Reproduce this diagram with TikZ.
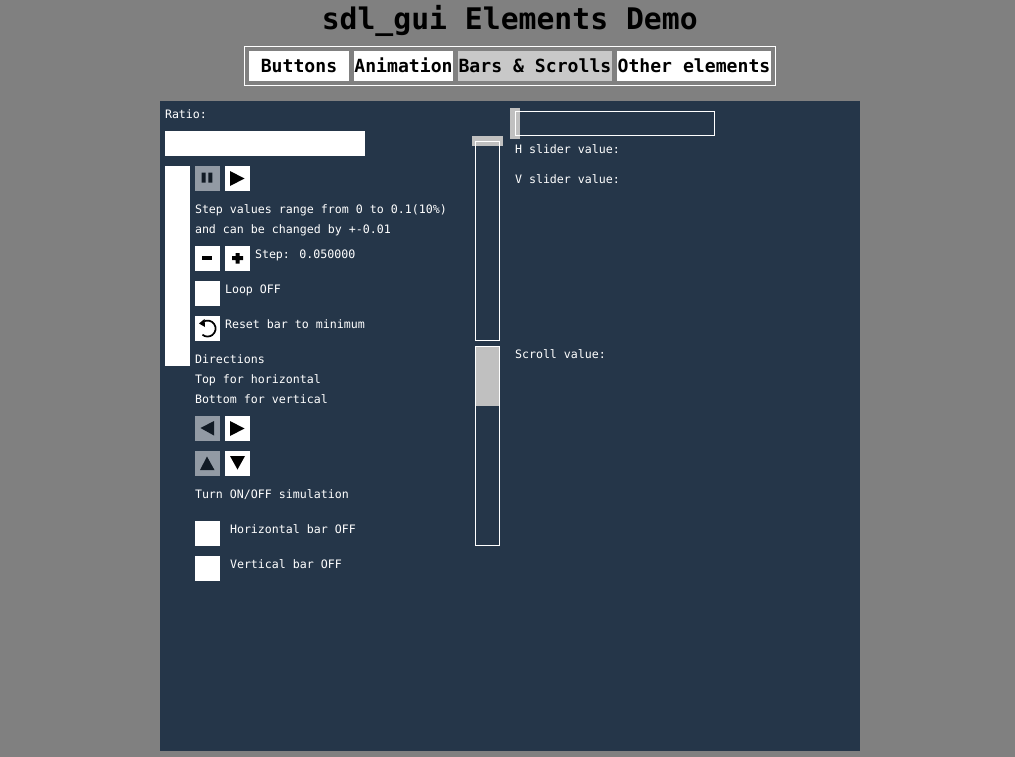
\documentclass[tikz,border=0pt]{standalone}
\usepackage{fontspec}
\setmainfont{DejaVu Sans Mono}
\usetikzlibrary{positioning}

\definecolor{windowgrey}{HTML}{808080}
\definecolor{panelblue}{HTML}{253649}
\definecolor{offgrey}{HTML}{929AA4}
\definecolor{thumbgrey}{HTML}{C0C0C0}
\definecolor{activegrey}{HTML}{C8C8C8}
\definecolor{icondark}{HTML}{121B25}

\begin{document}
\begin{tikzpicture}[x=0.75pt,y=-0.75pt,node distance=3.75pt,
  boxsize/.style 2 args={minimum width=#1*0.75pt,minimum height=#2*0.75pt},
  block/.style={inner sep=0pt,outer sep=0pt,anchor=north west,line width=0.75pt},
  whitebox/.style={block,fill=white,boxsize={25}{25}},
  offbox/.style={block,fill=offgrey,boxsize={25}{25}},
  thumb/.style={block,fill=thumbgrey},
  track/.style={block,draw=white},
  tab/.style={block,fill=white,boxsize={#1}{30},text height=9pt,text depth=0pt,
    font=\fontsize{13.6}{16}\selectfont\bfseries},
  label/.style={inner sep=0pt,outer sep=0pt,anchor=base west,text=white,
    font=\fontsize{8.72}{10}\selectfont}]

  \useasboundingbox (0,0) rectangle (1015,757);
  \fill[windowgrey] (0,0) rectangle (1015,757);
  \fill[panelblue] (160,101) rectangle (860,751);

  \node[inner sep=0pt,anchor=base west,font=\fontsize{22.3}{26}\selectfont\bfseries]
    (title) at (321.5,29) {sdl\_gui Elements Demo};

  \node[track,boxsize={531}{39}] (tabframe) at (244.5,46.5) {};
  \node[tab=100] (buttons) at (249,51) {Buttons};
  \node[tab=99,right=of buttons] (animation) {Animation};
  \node[tab=154,right=of animation,fill=activegrey] (bars) {Bars \& Scrolls};
  \node[tab=154,right=of bars] (others) {Other elements};

  \node[label] (ratio) at (165,118) {Ratio:};
  \node[block,fill=white,boxsize={200}{25}] (hbar) at (165,131) {};
  \node[block,fill=white,boxsize={25}{200}] (vbar) at (165,166) {};

  \node[offbox] (pause) at (195,166) {};
  \node[whitebox,right=of pause] (play) {};
  \fill[icondark] (201.7,172.7) rectangle (205.7,182.7) (208.3,172.7) rectangle (212.3,182.7);
  \fill (230,171) -- (230,186) -- (244.5,178.5) -- cycle;

  \node[label] (range) at (195,213) {Step values range from 0 to 0.1(10\%)};
  \node[label] (change) at (195,233) {and can be changed by +-0.01};

  \node[whitebox] (minus) at (195,246) {};
  \node[whitebox,right=of minus] (plus) {};
  \fill (202,256) rectangle (212,260);
  \fill (232,256) rectangle (243,260) (235.5,253) rectangle (239.5,263.5);
  \node[label] (step) at (255,258) {Step: 0.050000};

  \node[whitebox] (loop) at (195,281) {};
  \node[label] (looptext) at (225,293) {Loop OFF};

  \node[whitebox] (reset) at (195,316) {};
  \draw[line width=1.3pt] (203,322) arc[start angle=125,end angle=-130,radius=6pt];
  \fill (199,323.5) -- (204.5,319) -- (205,327) -- cycle;
  \node[label] (resettext) at (225,328) {Reset bar to minimum};

  \node[label] (directions) at (195,363) {Directions};
  \node[label] (tophelp) at (195,383) {Top for horizontal};
  \node[label] (bottomhelp) at (195,403) {Bottom for vertical};

  \node[offbox] (left) at (195,416) {};
  \node[whitebox,right=of left] (right) {};
  \fill[icondark] (214,421) -- (214,435.5) -- (200.5,428) -- cycle;
  \fill (230,421) -- (230,436) -- (244.5,428.5) -- cycle;

  \node[offbox] (up) at (195,451) {};
  \node[whitebox,right=of up] (down) {};
  \fill[icondark] (200,470) -- (214.5,470) -- (207,456.5) -- cycle;
  \fill (230,456) -- (245,456) -- (237.5,469.5) -- cycle;

  \node[label] (simulation) at (195,498) {Turn ON/OFF simulation};

  \node[whitebox] (hswitch) at (195,521) {};
  \node[label] (hswitchtext) at (230,533) {Horizontal bar OFF};
  \node[whitebox] (vswitch) at (195,556) {};
  \node[label] (vswitchtext) at (230,568) {Vertical bar OFF};

  \node[thumb,boxsize={31}{10}] (vthumb) at (472,136) {};
  \node[track,boxsize={24}{199}] (vslider) at (475.5,141.5) {};
  \node[thumb,boxsize={23}{59}] (scrollthumb) at (476,347) {};
  \node[track,boxsize={24}{199}] (scroll) at (475.5,346.5) {};
  \node[thumb,boxsize={10}{31}] (hthumb) at (510,108) {};
  \node[track,boxsize={199}{24}] (hslider) at (515.5,111.5) {};

  \node[label] (hvalue) at (515,153) {H slider value:};
  \node[label] (vvalue) at (515,183) {V slider value:};
  \node[label] (scrollvalue) at (515,358) {Scroll value:};
\end{tikzpicture}
\end{document}
